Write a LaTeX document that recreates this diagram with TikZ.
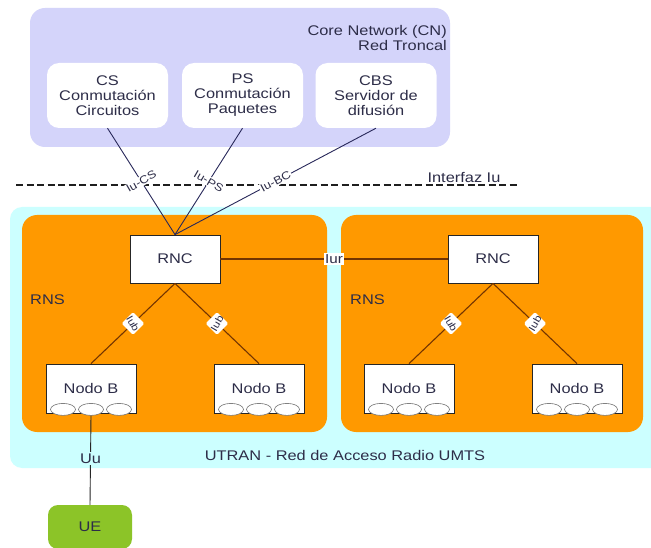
\documentclass[tikz,border=0pt]{standalone}
\usepackage{fontspec}
\setmainfont[FakeStretch=1.17]{Liberation Sans}
\usetikzlibrary{shapes.geometric}
\definecolor{corec}{RGB}{212,212,250}
\definecolor{cyanc}{RGB}{204,255,255}
\definecolor{orngc}{RGB}{255,153,0}
\definecolor{greenc}{RGB}{140,196,40}
\definecolor{textc}{RGB}{45,45,72}
\definecolor{iuc}{RGB}{40,40,90}
\definecolor{brownc}{RGB}{115,52,0}
\begin{document}
\begin{tikzpicture}[x=1pt,y=-1pt,
  txt/.style={text=textc, font=\fontsize{14}{15}\selectfont, align=center, inner sep=0pt},
  cnbox/.style={txt, fill=white, rounded corners=12pt, minimum width=121pt, minimum height=65pt},
  rncbox/.style={txt, fill=white, draw=black!85, line width=0.8pt, minimum width=90pt, minimum height=48pt},
  nbbox/.style={txt, fill=white, draw=black!85, line width=0.8pt, minimum width=90pt, minimum height=49pt},
  cellshape/.style={ellipse, fill=white, draw=black!55, line width=0.6pt, minimum width=25pt, minimum height=12pt, inner sep=0pt},
  iulab/.style={fill=white, inner sep=1pt, text=textc, font=\fontsize{11}{12}\selectfont},
  iubbg/.style={fill=white, rounded corners=1.5pt, minimum size=16pt, inner sep=0pt, rotate=45},
  iubtxt/.style={inner sep=0pt, text=textc, font=\fontsize{10}{11}\selectfont},
  iuline/.style={draw=iuc, line width=0.9pt},
  orline/.style={draw=brownc, line width=1.1pt}]
\useasboundingbox (0,0) rectangle (651,548);
\fill[white] (0,0) rectangle (651,548);
% core network
\fill[corec, rounded corners=15pt] (30,8) rectangle (450,147);
\node[txt, anchor=base east] (cn1) at (447,36) {Core Network (CN)};
\node[txt, anchor=base east] (cn2) at (447,51) {Red Troncal};
\node[cnbox] (cs) at (107.5,95.5) {CS\\Conmutación\\Circuitos};
\node[cnbox] (ps) at (242.5,95.5) {PS\\Conmutación\\Paquetes};
\node[cnbox] (cbs) at (376,95.5) {CBS\\Servidor de\\difusión};
% UTRAN
\fill[cyanc, rounded corners=12pt] (10,207) rectangle (690,468);
\fill[orngc, rounded corners=15pt] (22,215) rectangle (327,432);
\fill[orngc, rounded corners=15pt] (341,215) rectangle (643,432);
\node[txt, anchor=west] (rns1) at (30,300) {RNS};
\node[txt, anchor=west] (rns2) at (350,300) {RNS};
\node[txt] (utran) at (345,455) {UTRAN - Red de Acceso Radio UMTS};
% dashed Iu interface
\draw[black!88, line width=2.8pt, dash pattern=on 7pt off 3.5pt] (16,185) -- (519,185);
\node[txt, anchor=base] (ifz) at (464,183) {Interfaz Iu};
% nodes
\node[rncbox] (rnc1) at (175,259) {RNC};
\node[rncbox] (rnc2) at (493,259) {RNC};
\node[nbbox] (nb1) at (91,388.5) {Nodo B};
\node[nbbox] (nb2) at (259,388.5) {Nodo B};
\node[nbbox] (nb3) at (409,388.5) {Nodo B};
\node[nbbox] (nb4) at (577,388.5) {Nodo B};
\foreach \n in {nb1,nb2,nb3,nb4}{
  \node[cellshape] (\n a) at ([xshift=-28pt,yshift=4pt]\n.south) {};
  \node[cellshape] (\n b) at ([yshift=4pt]\n.south) {};
  \node[cellshape] (\n c) at ([xshift=28pt,yshift=4pt]\n.south) {};
}
\node[txt, fill=greenc, rounded corners=10pt, minimum width=84pt, minimum height=44pt] (ue) at (90,527) {UE};
% Iu connectors
\draw[iuline] (cs.south) -- node[iulab, rotate=30] {Iu-CS} (rnc1.north);
\draw[iuline] (ps.south) -- node[iulab, rotate=-30] {Iu-PS} (rnc1.north);
\draw[iuline] (cbs.south) -- node[iulab, rotate=28] {Iu-BC} (rnc1.north);
% Iur
\draw[orline] (rnc1.east) -- node[iulab, font=\fontsize{13}{14}\selectfont, inner sep=1.5pt] {Iur} (rnc2.west);
% Iub
\draw[orline] (rnc1.south) -- node[iubbg] (g1) {} (nb1.north);
\draw[orline] (rnc1.south) -- node[iubbg] (g2) {} (nb2.north);
\draw[orline] (rnc2.south) -- node[iubbg] (g3) {} (nb3.north);
\draw[orline] (rnc2.south) -- node[iubbg] (g4) {} (nb4.north);
\node[iubtxt, rotate=-60] (t1) at (g1) {Iub};
\node[iubtxt, rotate=60] (t2) at (g2) {Iub};
\node[iubtxt, rotate=-60] (t3) at (g3) {Iub};
\node[iubtxt, rotate=60] (t4) at (g4) {Iub};
% Uu
\draw[black!85, line width=0.9pt] (nb1b.south) -- node[txt, fill=cyanc, inner sep=2pt, pos=0.48] {Uu} (ue.north);
\end{tikzpicture}
\end{document}
